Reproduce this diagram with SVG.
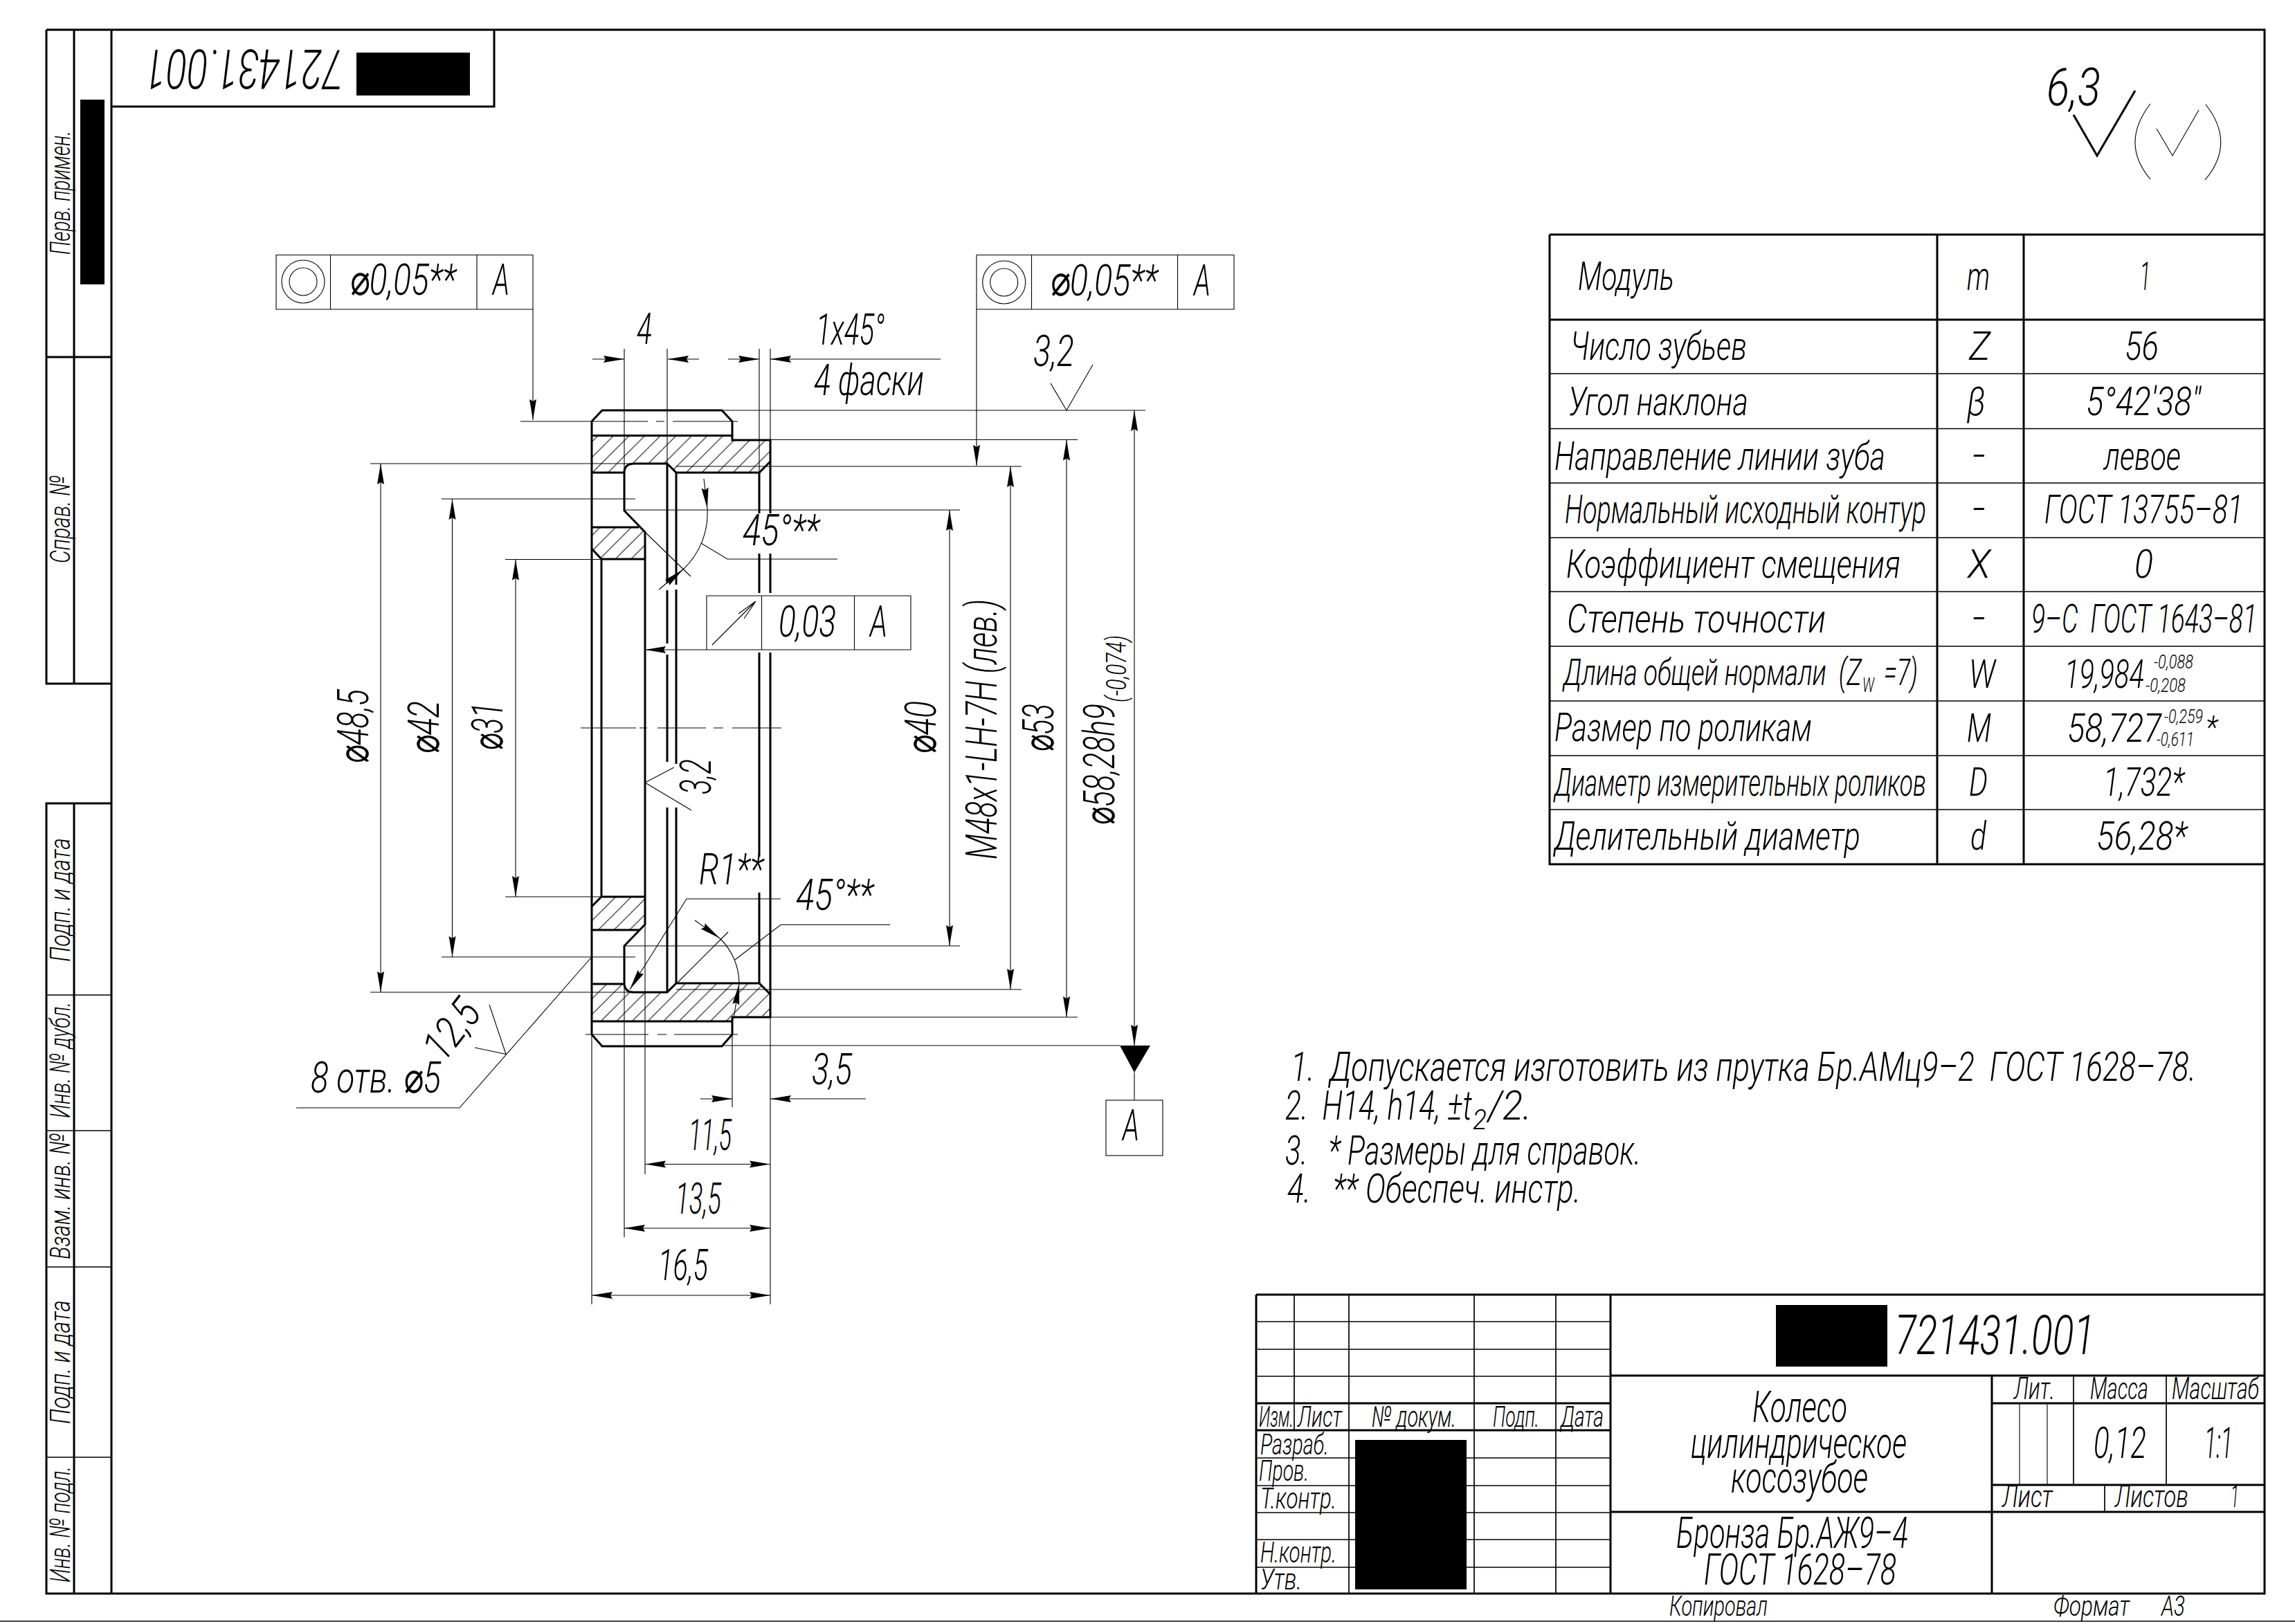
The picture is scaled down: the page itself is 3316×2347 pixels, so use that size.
<svg xmlns="http://www.w3.org/2000/svg" width="3316" height="2347" viewBox="0 0 3316 2347">
<style>
text{font-family:Roboto,"DejaVu Sans",sans-serif;font-style:italic;font-weight:300;fill:#000;white-space:pre}
.k{stroke:#000;stroke-width:3;fill:none}
.m{stroke:#000;stroke-width:1.7;fill:none}
.n{stroke:#000;stroke-width:1.1;fill:none}
.a{marker-end:url(#arr)}
.r{fill:#000;stroke:none}
</style>
<defs>
<marker id="arr" markerUnits="userSpaceOnUse" viewBox="0 0 30 10" refX="30" refY="5" markerWidth="30" markerHeight="10" orient="auto" overflow="visible"><path d="M30,5 L0,0 L3,5 L0,10 Z" fill="#000"/></marker>
<pattern id="h1" patternUnits="userSpaceOnUse" width="22.6" height="22.6" patternTransform="translate(2,0)"><path d="M-2,2 L2,-2 M0,22.6 L22.6,0 M20.6,24.6 L24.6,20.6" stroke="#000" stroke-width="1" fill="none"/></pattern>
<pattern id="h2" patternUnits="userSpaceOnUse" width="22.6" height="22.6" patternTransform="translate(16.2,0)"><path d="M-2,2 L2,-2 M0,22.6 L22.6,0 M20.6,24.6 L24.6,20.6" stroke="#000" stroke-width="1" fill="none"/></pattern>
</defs>
<rect width="3316" height="2347" fill="#fff"/>

<g id="frame">
<path class="m" d="M0,2343 H3316"/>
<path class="k" d="M161,43 H3272 V2303 H67 V1161 H161 M161,43 V2303 M107,1161 V2303 M67,43 H161 M67,43 V988 H161 M107,43 V988 M67,516 H161"/>
<path class="k" d="M161,154 H714 V43"/>
<path class="m" d="M67,1438 H161 M67,1634 H161 M67,1831 H161 M67,2106 H161"/>
<rect class="r" x="116" y="144" width="35" height="267"/>
<rect class="r" x="515" y="76" width="164" height="62"/>
<text transform="translate(496,71.5) rotate(180)" font-size="80" textLength="286" lengthAdjust="spacingAndGlyphs">721431.001</text>
<text transform="translate(101,368) rotate(-90)" font-size="41" textLength="179" lengthAdjust="spacingAndGlyphs">Перв. примен.</text>
<text transform="translate(101,814) rotate(-90)" font-size="41" textLength="127" lengthAdjust="spacingAndGlyphs">Справ. №</text>
<text transform="translate(101,1390) rotate(-90)" font-size="41" textLength="179" lengthAdjust="spacingAndGlyphs">Подп. и дата</text>
<text transform="translate(101,1616) rotate(-90)" font-size="41" textLength="168" lengthAdjust="spacingAndGlyphs">Инв. № дубл.</text>
<text transform="translate(101,1820) rotate(-90)" font-size="41" textLength="182" lengthAdjust="spacingAndGlyphs">Взам. инв. №</text>
<text transform="translate(101,2058) rotate(-90)" font-size="41" textLength="179" lengthAdjust="spacingAndGlyphs">Подп. и дата</text>
<text transform="translate(101,2287) rotate(-90)" font-size="41" textLength="168" lengthAdjust="spacingAndGlyphs">Инв. № подл.</text>
</g>

<g id="roughness-general">
<text x="2957" y="152" font-size="76" textLength="78" lengthAdjust="spacingAndGlyphs">6,3</text>
<path class="k" d="M2996,166 L3030,225 L3085,131"/>
<path class="n" d="M3116,186 L3139,225 L3177,159 M3107,150 Q3063,207 3107,259 M3187,151 Q3231,207 3186,260"/>
</g>

<g id="part">
<path fill="url(#h1)" d="M855,629.5 H1058 V636 H1113 V667 L1097,683 H977 L964,670 H917 Q902,670 902,683 H855 Z M855,762 H923 L932,769 V808 H869 L855,793 Z"/>
<path fill="url(#h2)" d="M855,1310 L869,1296 H932 V1336 L925,1344 H855 Z M855,1422 H902 Q904,1434 915,1434 H964 L977,1421 H1097 L1113,1437 V1470 H1058 V1476 H855 Z"/>
<path class="k" d="M855,609 L870,593 H1043 L1058,609 V636 H1113 V667 L1097,683 H977 L964,670 H917 Q902,670 902,683 V738 L932,769 V1336 L902,1367 V1423 Q904,1434 915,1434 H964 L977,1421 H1097 L1113,1437 V1470 H1058 V1495 L1043,1512 H870 L855,1495 Z"/>
<path class="k" d="M855,629.5 H1058 M855,683 H902 M855,762 H923 M855,793 L869,808 H932 M869,808 V1296 M855,1310 L869,1296 H932 M855,1344 H925 M855,1422 H902 M855,1476 H1058"/>
<path class="k" d="M964,670 V843 M964,853 V930 M964,946 V1101 M964,1167 V1434 M977,683 V845 M977,852 V1104 M977,1167 V1421 M1097,683 V742 M1097,800 V857 M1097,943 V1238 M1097,1290 V1421 M1113,667 V742 M1113,800 V857 M1113,943 V1437"/>
<path class="n" d="M752,609 H936 M948,609 H960 M972,609 H1066 M846,1495 H937 M950,1495 H963 M974,1495 H1066 M839,1052 H919 M924,1052 H935 M950,1052 H1020 M1031,1052 H1045 M1058,1052 H1129"/>
</g>

<g id="connectors">
<path class="n" d="M535,670 H964 M535,1434 H915 M638,721 H918 M638,1383 H918 M730,808.5 H869 M730,1296 H869"/>
<path class="n a" d="M550,1052 V670"/><path class="n a" d="M550,1052 V1434"/>
<path class="n a" d="M653.5,1052 V721"/><path class="n a" d="M653.5,1052 V1383"/>
<path class="n a" d="M745,1052 V808.5"/><path class="n a" d="M745,1052 V1296"/>
<path class="n" d="M1043,593 H1655 M1113,635.5 H1557 M977,674 H1476 M902,737 H1387 M902,1367 H1387 M977,1430 H1476 M1113,1470 H1557 M1043,1511 H1618"/>
<path class="n a" d="M1372,1052 V737"/><path class="n a" d="M1372,1052 V1367"/>
<path class="n a" d="M1460,1052 V674"/><path class="n a" d="M1460,1052 V1430"/>
<path class="n a" d="M1541,1052 V635.5"/><path class="n a" d="M1541,1052 V1470"/>
<path class="n a" d="M1639,1052 V593"/><path class="n a" d="M1639,1052 V1511"/>
<path class="n" d="M902,504 V683 M964,504 V670 M1097,504 V683 M1113,504 V667"/>
<path class="n a" d="M856,519 H902"/><path class="n a" d="M1010,519 H965"/>
<path class="n a" d="M1052,519 H1097"/><path class="n a" d="M1359,519 H1113"/>
<path class="n" d="M855,1495 V1885 M1113,1470 V1885 M902,1423 V1788 M932,1336 V1697 M1058,1495 V1600"/>
<path class="n a" d="M984,1872 H855"/><path class="n a" d="M984,1872 H1113"/>
<path class="n a" d="M1007,1775 H902"/><path class="n a" d="M1007,1775 H1113"/>
<path class="n a" d="M1022,1682.5 H932"/><path class="n a" d="M1022,1682.5 H1113"/>
<path class="n a" d="M1012,1588 H1058"/><path class="n a" d="M1251,1588 H1113"/>
<path class="n" d="M932,769 L998,833 M1013,785 L1051,808 H1210 M1022,735 A112,112 0 0 1 987,823"/>
<path class="n a" d="M1017,692 L1022,735"/><path class="n a" d="M952,852 L987,823"/>
<path class="n" d="M1128,1299 H992"/><path class="n a" d="M992,1299 L910,1430"/>
<path class="n" d="M978,1421 L1052,1347 M1040,1356 A91,91 0 0 1 1068,1421 M1062,1387 L1128,1336.5 H1286"/>
<path class="n a" d="M1004,1330 L1040,1356"/><path class="n a" d="M1060,1472 L1068,1422"/>
<path class="n" d="M428,1601 H664 L854,1384 M707,1452 L731,1523.5 L686,1514"/>
<path class="n" d="M974,1109 L932,1131 L999,1171"/>
<path class="n" d="M1518,554 L1541,593 L1579,527"/>
<path class="n a" d="M770,447 V607"/><path class="n a" d="M1411,447 V673"/><path class="n a" d="M1021,939 H932"/>
</g>

<g id="dim-labels">
<text x="920" y="497" font-size="62" textLength="22" lengthAdjust="spacingAndGlyphs">4</text>
<text x="1179" y="498" font-size="62" textLength="99" lengthAdjust="spacingAndGlyphs">1x45°</text>
<text x="1176" y="571" font-size="62" textLength="159" lengthAdjust="spacingAndGlyphs">4 фаски</text>
<text x="1073" y="788" font-size="62" textLength="111" lengthAdjust="spacingAndGlyphs">45°**</text>
<text x="1010" y="1278" font-size="62" textLength="93" lengthAdjust="spacingAndGlyphs">R1**</text>
<text x="1150" y="1315" font-size="62" textLength="112" lengthAdjust="spacingAndGlyphs">45°**</text>
<text x="449" y="1579" font-size="62" textLength="188" lengthAdjust="spacingAndGlyphs">8 отв. ⌀5</text>
<text transform="translate(641,1537) rotate(-52)" font-size="62" textLength="92" lengthAdjust="spacingAndGlyphs">12,5</text>
<text x="1173" y="1567" font-size="62" textLength="58" lengthAdjust="spacingAndGlyphs">3,5</text>
<text x="995" y="1662" font-size="62" textLength="62" lengthAdjust="spacingAndGlyphs">11,5</text>
<text x="976" y="1754" font-size="62" textLength="66" lengthAdjust="spacingAndGlyphs">13,5</text>
<text x="951" y="1850" font-size="62" textLength="72" lengthAdjust="spacingAndGlyphs">16,5</text>
<text transform="translate(532,1104) rotate(-90)" font-size="62" textLength="108" lengthAdjust="spacingAndGlyphs">⌀48,5</text>
<text transform="translate(634,1090) rotate(-90)" font-size="62" textLength="77" lengthAdjust="spacingAndGlyphs">⌀42</text>
<text transform="translate(726,1085) rotate(-90)" font-size="62" textLength="70" lengthAdjust="spacingAndGlyphs">⌀31</text>
<text transform="translate(1352,1090) rotate(-90)" font-size="62" textLength="77" lengthAdjust="spacingAndGlyphs">⌀40</text>
<text transform="translate(1440,1242) rotate(-90)" font-size="62" textLength="376" lengthAdjust="spacingAndGlyphs">M48x1-LH-7H (лев.)</text>
<text transform="translate(1522,1087) rotate(-90)" font-size="62" textLength="70" lengthAdjust="spacingAndGlyphs">⌀53</text>
<text transform="translate(1610,1193) rotate(-90)" font-size="62" textLength="176" lengthAdjust="spacingAndGlyphs">⌀58,28h9</text>
<text transform="translate(1627,1015) rotate(-90)" font-size="40" textLength="97" lengthAdjust="spacingAndGlyphs">(-0,074)</text>
<text transform="translate(1027,1148) rotate(-90)" font-size="62" textLength="51" lengthAdjust="spacingAndGlyphs">3,2</text>
<text x="1493" y="529" font-size="62" textLength="59" lengthAdjust="spacingAndGlyphs">3,2</text>
</g>

<g id="fcf-left">
<path class="n" d="M399,368.5 H770 V447 H399 Z M477.5,368.5 V447 M689,368.5 V447"/>
<circle class="n" cx="438" cy="407" r="31"/><circle class="n" cx="438" cy="407" r="20"/>
<text x="505" y="426" font-size="62" textLength="154" lengthAdjust="spacingAndGlyphs">⌀0,05**</text>
<text x="712" y="426" font-size="62" textLength="24" lengthAdjust="spacingAndGlyphs">A</text>
</g>
<g id="fcf-right">
<path class="n" d="M1411,368.5 H1783 V447 H1411 Z M1490.5,368.5 V447 M1701.5,368.5 V447"/>
<circle class="n" cx="1450.7" cy="408" r="31"/><circle class="n" cx="1450.7" cy="408" r="20"/>
<text x="1517" y="427" font-size="62" textLength="156" lengthAdjust="spacingAndGlyphs">⌀0,05**</text>
<text x="1725" y="427" font-size="62" textLength="24" lengthAdjust="spacingAndGlyphs">A</text>
</g>
<g id="fcf-runout">
<path class="n" d="M1021,861 H1316 V939 H1021 Z M1100.5,861 V939 M1234.5,861 V939 M1029,932 L1092,869 L1067,887 M1092,869 L1075,894"/>
<text x="1125" y="920" font-size="62" textLength="83" lengthAdjust="spacingAndGlyphs">0,03</text>
<text x="1257" y="920" font-size="62" textLength="25" lengthAdjust="spacingAndGlyphs">A</text>
</g>
<g id="datum">
<path d="M1618,1511 H1662 L1639,1550 Z" fill="#000"/>
<path class="n" d="M1639,1550 V1590"/>
<rect class="n" x="1598" y="1590" width="82" height="80"/>
<text x="1622" y="1648" font-size="62" textLength="24" lengthAdjust="spacingAndGlyphs">A</text>
</g>

<g id="gear-table">
<path class="k" d="M2239,339 H3272 M2239,339 V1249 H3272 M2799,339 V1249 M2924,339 V1249 M2239,462 H3272"/>
<path class="m" d="M2239,540 H3272 M2239,619.5 H3272 M2239,698 H3272 M2239,777 H3272 M2239,855 H3272 M2239,934 H3272 M2239,1013 H3272 M2239,1092 H3272 M2239,1170 H3272"/>
<text x="2280" y="419" font-size="58" textLength="139" lengthAdjust="spacingAndGlyphs">Модуль</text>
<text x="2842" y="419" font-size="58" textLength="33" lengthAdjust="spacingAndGlyphs">m</text>
<text x="3092" y="419" font-size="58" textLength="15" lengthAdjust="spacingAndGlyphs">1</text>
<text x="2269" y="520" font-size="58" textLength="255" lengthAdjust="spacingAndGlyphs">Число зубьев</text>
<text x="2845" y="520" font-size="58" textLength="31" lengthAdjust="spacingAndGlyphs">Z</text>
<text x="3070" y="520" font-size="58" textLength="49" lengthAdjust="spacingAndGlyphs">56</text>
<text x="2266" y="600" font-size="58" textLength="260" lengthAdjust="spacingAndGlyphs">Угол наклона</text>
<text x="2842" y="600" font-size="58" textLength="27" lengthAdjust="spacingAndGlyphs">β</text>
<text x="3014" y="600" font-size="58" textLength="166" lengthAdjust="spacingAndGlyphs">5°42'38"</text>
<text x="2246" y="679" font-size="58" textLength="478" lengthAdjust="spacingAndGlyphs">Направление линии зуба</text>
<text x="2849" y="679" font-size="58" textLength="20" lengthAdjust="spacingAndGlyphs">–</text>
<text x="3040" y="679" font-size="58" textLength="111" lengthAdjust="spacingAndGlyphs">левое</text>
<text x="2261" y="756" font-size="58" textLength="522" lengthAdjust="spacingAndGlyphs">Нормальный исходный контур</text>
<text x="2849" y="756" font-size="58" textLength="20" lengthAdjust="spacingAndGlyphs">–</text>
<text x="2954" y="756" font-size="58" textLength="287" lengthAdjust="spacingAndGlyphs">ГОСТ 13755–81</text>
<text x="2263" y="835" font-size="58" textLength="483" lengthAdjust="spacingAndGlyphs">Коэффициент смещения</text>
<text x="2843" y="835" font-size="58" textLength="33" lengthAdjust="spacingAndGlyphs">X</text>
<text x="3084" y="835" font-size="58" textLength="27" lengthAdjust="spacingAndGlyphs">0</text>
<text x="2264" y="914" font-size="58" textLength="374" lengthAdjust="spacingAndGlyphs">Степень точности</text>
<text x="2849" y="914" font-size="58" textLength="20" lengthAdjust="spacingAndGlyphs">–</text>
<text x="2935" y="914" font-size="58" textLength="326" lengthAdjust="spacingAndGlyphs">9–С  ГОСТ 1643–81</text>
<text x="2259" y="990" font-size="54" textLength="431" lengthAdjust="spacingAndGlyphs">Длина общей нормали  (Z</text>
<text x="2691" y="1000" font-size="30" textLength="17" lengthAdjust="spacingAndGlyphs">W</text>
<text x="2722" y="990" font-size="54" textLength="49" lengthAdjust="spacingAndGlyphs">=7)</text>
<text x="2845" y="994" font-size="58" textLength="38" lengthAdjust="spacingAndGlyphs">W</text>
<text x="2983" y="994" font-size="58" textLength="115" lengthAdjust="spacingAndGlyphs">19,984</text>
<text x="3112" y="966" font-size="28" textLength="57" lengthAdjust="spacingAndGlyphs">-0,088</text>
<text x="3100" y="1000" font-size="28" textLength="58" lengthAdjust="spacingAndGlyphs">-0,208</text>
<text x="2246" y="1071" font-size="58" textLength="372" lengthAdjust="spacingAndGlyphs">Размер по роликам</text>
<text x="2842" y="1072" font-size="58" textLength="35" lengthAdjust="spacingAndGlyphs">M</text>
<text x="2987" y="1072" font-size="58" textLength="136" lengthAdjust="spacingAndGlyphs">58,727</text>
<text x="3127" y="1045" font-size="28" textLength="56" lengthAdjust="spacingAndGlyphs">-0,259</text>
<text x="3116" y="1078" font-size="28" textLength="54" lengthAdjust="spacingAndGlyphs">-0,611</text>
<text x="3187" y="1067" font-size="46" textLength="17" lengthAdjust="spacingAndGlyphs">*</text>
<text x="2246" y="1150" font-size="56" textLength="537" lengthAdjust="spacingAndGlyphs">Диаметр измерительных роликов</text>
<text x="2845" y="1150" font-size="58" textLength="27" lengthAdjust="spacingAndGlyphs">D</text>
<text x="3039" y="1150" font-size="58" textLength="117" lengthAdjust="spacingAndGlyphs">1,732*</text>
<text x="2246" y="1228" font-size="58" textLength="442" lengthAdjust="spacingAndGlyphs">Делительный диаметр</text>
<text x="2847" y="1228" font-size="58" textLength="23" lengthAdjust="spacingAndGlyphs">d</text>
<text x="3029" y="1228" font-size="58" textLength="131" lengthAdjust="spacingAndGlyphs">56,28*</text>
</g>

<g id="notes">
<text x="1865" y="1562" font-size="60" textLength="1308" lengthAdjust="spacingAndGlyphs">1.  Допускается изготовить из прутка Бр.АМц9–2  ГОСТ 1628–78.</text>
<text x="1857" y="1618" font-size="60" textLength="270" lengthAdjust="spacingAndGlyphs">2.  H14, h14, ±t</text>
<text x="2128" y="1632" font-size="40" textLength="20" lengthAdjust="spacingAndGlyphs">2</text>
<text x="2150" y="1618" font-size="60" textLength="63" lengthAdjust="spacingAndGlyphs">/2.</text>
<text x="1857" y="1683" font-size="60" textLength="514" lengthAdjust="spacingAndGlyphs">3.   * Размеры для справок.</text>
<text x="1860" y="1738" font-size="60" textLength="424" lengthAdjust="spacingAndGlyphs">4.   ** Обеспеч. инстр.</text>
</g>

<g id="title-block">
<path class="k" d="M1815,1871 H3272 M1815,2028 H2327 M1815,2067 H2327 M2327,1988 H3272 M2327,2185 H3272 M2878,2028 H3272 M2878,2146 H3272 M1815,1871 V2303 M2327,1871 V2303 M2878,1988 V2303"/>
<path class="m" d="M1870,1871 V2067 M1949,1871 V2303 M2130,1871 V2303 M2248,1871 V2303 M1815,1910 H2327 M1815,1950 H2327 M1815,1989 H2327 M1815,2107 H2327 M1815,2147 H2327 M1815,2186 H2327 M1815,2225 H2327 M1815,2265 H2327 M2996,1988 V2146 M3130,1988 V2146 M3041,2146 V2185"/>
<path class="n" d="M2918,2028 V2146 M2958,2028 V2146"/>
<rect class="r" x="2566" y="1886" width="161" height="89"/>
<rect class="r" x="1958" y="2081" width="161" height="216"/>
<text x="2738" y="1957" font-size="80" textLength="289" lengthAdjust="spacingAndGlyphs">721431.001</text>
<text x="1819" y="2062" font-size="42" textLength="50" lengthAdjust="spacingAndGlyphs">Изм.</text>
<text x="1875" y="2062" font-size="42" textLength="64" lengthAdjust="spacingAndGlyphs">Лист</text>
<text x="1982" y="2062" font-size="42" textLength="122" lengthAdjust="spacingAndGlyphs">№ докум.</text>
<text x="2157" y="2062" font-size="42" textLength="67" lengthAdjust="spacingAndGlyphs">Подп.</text>
<text x="2255" y="2062" font-size="42" textLength="62" lengthAdjust="spacingAndGlyphs">Дата</text>
<text x="1821" y="2102" font-size="42" textLength="99" lengthAdjust="spacingAndGlyphs">Разраб.</text>
<text x="1819" y="2140" font-size="42" textLength="72" lengthAdjust="spacingAndGlyphs">Пров.</text>
<text x="1821" y="2180" font-size="42" textLength="110" lengthAdjust="spacingAndGlyphs">Т.контр.</text>
<text x="1821" y="2258" font-size="42" textLength="110" lengthAdjust="spacingAndGlyphs">Н.контр.</text>
<text x="1821" y="2297" font-size="42" textLength="60" lengthAdjust="spacingAndGlyphs">Утв.</text>
<text x="2532" y="2055" font-size="62" textLength="137" lengthAdjust="spacingAndGlyphs">Колесо</text>
<text x="2443" y="2107" font-size="62" textLength="312" lengthAdjust="spacingAndGlyphs">цилиндрическое</text>
<text x="2501" y="2157" font-size="62" textLength="198" lengthAdjust="spacingAndGlyphs">косозубое</text>
<text x="2422" y="2237" font-size="62" textLength="335" lengthAdjust="spacingAndGlyphs">Бронза Бр.АЖ9–4</text>
<text x="2462" y="2290" font-size="62" textLength="278" lengthAdjust="spacingAndGlyphs">ГОСТ 1628–78</text>
<text x="2910" y="2022" font-size="44" textLength="59" lengthAdjust="spacingAndGlyphs">Лит.</text>
<text x="3020" y="2022" font-size="44" textLength="84" lengthAdjust="spacingAndGlyphs">Масса</text>
<text x="3138" y="2022" font-size="44" textLength="126" lengthAdjust="spacingAndGlyphs">Масштаб</text>
<text x="3025" y="2107" font-size="62" textLength="76" lengthAdjust="spacingAndGlyphs">0,12</text>
<text x="3185" y="2107" font-size="62" textLength="41" lengthAdjust="spacingAndGlyphs">1:1</text>
<text x="2893" y="2178" font-size="44" textLength="73" lengthAdjust="spacingAndGlyphs">Лист</text>
<text x="3056" y="2178" font-size="44" textLength="106" lengthAdjust="spacingAndGlyphs">Листов</text>
<text x="3223" y="2178" font-size="44" textLength="12" lengthAdjust="spacingAndGlyphs">1</text>
<text x="2412" y="2335" font-size="40" textLength="142" lengthAdjust="spacingAndGlyphs">Копировал</text>
<text x="2967" y="2335" font-size="40" textLength="110" lengthAdjust="spacingAndGlyphs">Формат</text>
<text x="3123" y="2335" font-size="40" textLength="34" lengthAdjust="spacingAndGlyphs">А3</text>
</g>
</svg>
